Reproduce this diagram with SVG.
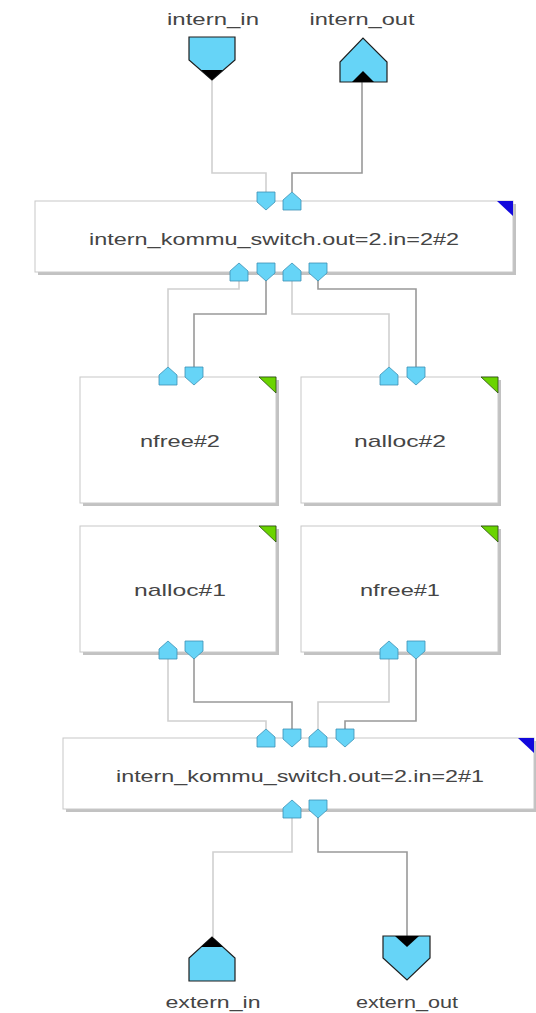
<svg xmlns="http://www.w3.org/2000/svg" width="536" height="1013" viewBox="0 0 536 1013">
<style>
.bg{fill:#ffffff}
.box{fill:#ffffff;stroke:#c8c8c8;stroke-width:1}
.shadow{fill:#c2c2c2}
.lbl{font-family:"Liberation Sans",Arial,sans-serif;font-size:17px;fill:#454545;text-anchor:middle}
.port{fill:#66d4f7;stroke:#3c90b4;stroke-width:0.8}
.term{fill:#66d4f7;stroke:#1e1e1e;stroke-width:1.2}
.tip{fill:#000000}
.blue{fill:#1208dc}
.green{fill:#6ad400;stroke:#2a4a10;stroke-width:0.8}
.light{fill:none;stroke:#d0d0d0;stroke-width:1.6}
.dark{fill:none;stroke:#999999;stroke-width:1.6}
</style>
<defs>
<path id="pUp" d="M-9 18 V8 L0 0 L9 8 V18 Z"/>
<path id="pDown" d="M-9 0 H9 V10 L0 18 L-9 10 Z"/>
</defs>
<rect class="bg" x="0" y="0" width="536" height="1013"/>

<g id="connectors">
<path class="light" d="M212 80 V173 H266 V192"/>
<path class="dark" d="M362 82 V173 H292 V192"/>
<path class="light" d="M239 279 V289 H168 V367"/>
<path class="dark" d="M266 279 V314 H194 V367"/>
<path class="light" d="M292 279 V314 H389 V367"/>
<path class="dark" d="M318 279 V289 H416 V367"/>
<path class="light" d="M168 658 V721 H266 V729"/>
<path class="dark" d="M194 658 V702 H292 V729"/>
<path class="light" d="M389 658 V702 H318 V729"/>
<path class="dark" d="M416 658 V721 H345 V729"/>
<path class="light" d="M292 817 V852 H213 V937"/>
<path class="dark" d="M318 817 V852 H407 V936"/>
</g>

<g id="intern_in">
<text class="lbl" x="213" y="25" textLength="92" lengthAdjust="spacingAndGlyphs">intern_in</text>
<path class="term" d="M189 37 H235 V60 L212 80 L189 60 Z"/>
<path class="tip" d="M201 70 H223 L212 80 Z"/>
</g>

<g id="intern_out">
<text class="lbl" x="362" y="25" textLength="105" lengthAdjust="spacingAndGlyphs">intern_out</text>
<path class="term" d="M340 82 V62 L363 38 L387 62 V82 Z"/>
<path class="tip" d="M352 82 H374 L363 71 Z"/>
</g>

<g id="switch2">
<rect class="shadow" x="38" y="204" width="478" height="71"/>
<rect class="box" x="35" y="201" width="478" height="71"/>
<path class="blue" d="M497 201 H513 V216 Z"/>
<text class="lbl" x="274" y="245" textLength="370" lengthAdjust="spacingAndGlyphs">intern_kommu_switch.out=2.in=2#2</text>
<use href="#pDown" class="port" x="266" y="192"/>
<use href="#pUp" class="port" x="292" y="192"/>
<use href="#pUp" class="port" x="239" y="263"/>
<use href="#pDown" class="port" x="266" y="263"/>
<use href="#pUp" class="port" x="292" y="263"/>
<use href="#pDown" class="port" x="318" y="263"/>
</g>

<g id="nfree2">
<rect class="shadow" x="83" y="380" width="196" height="126"/>
<rect class="box" x="80" y="377" width="196" height="126"/>
<path class="green" d="M259 377 H276 V393 Z"/>
<text class="lbl" x="180" y="447" textLength="80" lengthAdjust="spacingAndGlyphs">nfree#2</text>
<use href="#pUp" class="port" x="168" y="367"/>
<use href="#pDown" class="port" x="194" y="367"/>
</g>

<g id="nalloc2">
<rect class="shadow" x="304" y="380" width="197" height="126"/>
<rect class="box" x="301" y="377" width="197" height="126"/>
<path class="green" d="M481 377 H498 V393 Z"/>
<text class="lbl" x="400" y="447" textLength="92" lengthAdjust="spacingAndGlyphs">nalloc#2</text>
<use href="#pUp" class="port" x="389" y="367"/>
<use href="#pDown" class="port" x="416" y="367"/>
</g>

<g id="nalloc1">
<rect class="shadow" x="83" y="529" width="196" height="126"/>
<rect class="box" x="80" y="526" width="196" height="126"/>
<path class="green" d="M259 526 H276 V542 Z"/>
<text class="lbl" x="180" y="596" textLength="92" lengthAdjust="spacingAndGlyphs">nalloc#1</text>
<use href="#pUp" class="port" x="168" y="641"/>
<use href="#pDown" class="port" x="194" y="641"/>
</g>

<g id="nfree1">
<rect class="shadow" x="304" y="529" width="197" height="126"/>
<rect class="box" x="301" y="526" width="197" height="126"/>
<path class="green" d="M481 526 H498 V542 Z"/>
<text class="lbl" x="400" y="596" textLength="80" lengthAdjust="spacingAndGlyphs">nfree#1</text>
<use href="#pUp" class="port" x="389" y="641"/>
<use href="#pDown" class="port" x="416" y="641"/>
</g>

<g id="switch1">
<rect class="shadow" x="66" y="741" width="471" height="71"/>
<rect class="box" x="63" y="738" width="471" height="71"/>
<path class="blue" d="M518 738 H534 V753 Z"/>
<text class="lbl" x="300" y="782" textLength="368" lengthAdjust="spacingAndGlyphs">intern_kommu_switch.out=2.in=2#1</text>
<use href="#pUp" class="port" x="266" y="729"/>
<use href="#pDown" class="port" x="292" y="729"/>
<use href="#pUp" class="port" x="318" y="729"/>
<use href="#pDown" class="port" x="345" y="729"/>
<use href="#pUp" class="port" x="292" y="800"/>
<use href="#pDown" class="port" x="318" y="800"/>
</g>

<g id="extern_in">
<path class="term" d="M189 981 V958 L212 937 L235 958 V981 Z"/>
<path class="tip" d="M212 937 L223 947 H201 Z"/>
<text class="lbl" x="213" y="1008" textLength="95" lengthAdjust="spacingAndGlyphs">extern_in</text>
</g>

<g id="extern_out">
<path class="term" d="M383 936 H430 V958 L407 980 L383 958 Z"/>
<path class="tip" d="M395 936 H419 L407 947 Z"/>
<text class="lbl" x="407" y="1008" textLength="102" lengthAdjust="spacingAndGlyphs">extern_out</text>
</g>
</svg>
